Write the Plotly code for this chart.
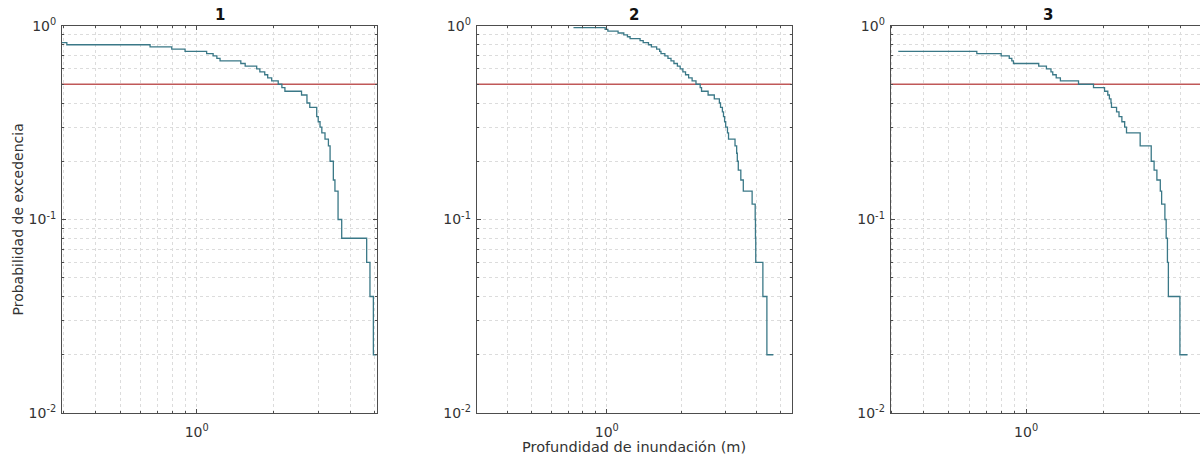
import plotly.graph_objects as go

# ---------------- data ----------------
panel_titles = ["1", "2", "3"]

depth_1 = [0.296, 0.309, 0.656, 0.798, 0.90, 1.094, 1.16, 1.20, 1.235, 1.49, 1.55, 1.72,
           1.77, 1.85, 1.90, 1.97, 2.09, 2.16, 2.22, 2.58, 2.71, 2.78, 2.96, 3.00, 3.05,
           3.10, 3.19, 3.29, 3.34, 3.44, 3.49, 3.59, 3.71, 4.65, 4.79, 4.94, 5.09]
prob_1 = [0.82, 0.80, 0.78, 0.76, 0.74, 0.72, 0.70, 0.68, 0.66, 0.64, 0.62, 0.60,
          0.58, 0.56, 0.54, 0.52, 0.50, 0.48, 0.46, 0.44, 0.40, 0.38, 0.34, 0.32, 0.30,
          0.28, 0.26, 0.24, 0.20, 0.16, 0.14, 0.10, 0.08, 0.06, 0.04, 0.02, 0.02]

depth_2 = [0.735, 0.985, 1.01, 1.11, 1.17, 1.21, 1.24, 1.36, 1.40, 1.47, 1.51, 1.585,
           1.63, 1.65, 1.71, 1.76, 1.81, 1.86, 1.92, 1.97, 2.02, 2.07, 2.13, 2.20, 2.28,
           2.37, 2.40, 2.55, 2.70, 2.83, 2.86, 2.91, 2.94, 2.97, 3.00, 3.05, 3.08, 3.27,
           3.32, 3.34, 3.37, 3.45, 3.53, 3.83, 3.94, 3.95, 3.96, 4.23, 4.39, 4.66]
prob_2 = [0.98, 0.96, 0.94, 0.92, 0.90, 0.88, 0.86, 0.84, 0.82, 0.80, 0.78, 0.76,
          0.74, 0.72, 0.70, 0.68, 0.66, 0.64, 0.62, 0.60, 0.58, 0.56, 0.54, 0.52, 0.50,
          0.48, 0.46, 0.44, 0.42, 0.40, 0.38, 0.36, 0.34, 0.32, 0.30, 0.28, 0.26, 0.24,
          0.22, 0.20, 0.18, 0.16, 0.14, 0.12, 0.10, 0.08, 0.06, 0.04, 0.02, 0.02]

depth_3 = [0.318, 0.643, 0.80, 0.86, 0.88, 0.893, 1.12, 1.20, 1.25, 1.27, 1.31, 1.36,
           1.60, 1.83, 2.02, 2.08, 2.11, 2.14, 2.15, 2.25, 2.30, 2.36, 2.42, 2.46, 2.78,
           3.07, 3.15, 3.23, 3.33, 3.37, 3.47, 3.51, 3.55, 3.58, 3.97, 4.25]
prob_3 = [0.74, 0.72, 0.70, 0.68, 0.66, 0.64, 0.62, 0.60, 0.58, 0.56, 0.54, 0.52,
          0.50, 0.48, 0.46, 0.44, 0.42, 0.40, 0.38, 0.36, 0.34, 0.32, 0.30, 0.28, 0.24,
          0.20, 0.18, 0.16, 0.14, 0.12, 0.10, 0.08, 0.06, 0.04, 0.02, 0.02]

threshold = 0.5

y_tick_vals = [0.01, 0.1, 1]
y_tick_text = ["10<sup>-2</sup>", "10<sup>-1</sup>", "10<sup>0</sup>"]
x_tick_vals = [1]
x_tick_text = ["10<sup>0</sup>"]
x_minor_vals = [0.2, 0.3, 0.4, 0.5, 0.6, 0.7, 0.8, 0.9, 2, 3, 4, 5, 6, 7]
y_minor_vals = [0.02, 0.03, 0.04, 0.05, 0.06, 0.07, 0.08, 0.09,
                0.2, 0.3, 0.4, 0.5, 0.6, 0.7, 0.8, 0.9]

x_label = "Profundidad de inundación (m)"
y_label = "Probabilidad de excedencia"

# ---------------- layout geometry ----------------
W, H = 1200, 458
x_dom_px = [(62, 377), (476.7, 791.7), (890.7, 1200)]
y_top_px, y_bot_px = 26, 413
x_ranges = [(-0.529, 0.708), (-0.522, 0.742), (-0.527, 0.677)]  # log10 limits
y_range = (-2, 0)

curve_color = "#3a7887"
red_color = "#c05858"
axis_color = "#4d4d4d"
grid_color = "#d9d9d9"
minor_grid_color = "#dcdcdc"
font_family = "DejaVu Sans"
tick_font = dict(family=font_family, size=14, color="#333333")

series = [(depth_1, prob_1), (depth_2, prob_2), (depth_3, prob_3)]

fig = go.Figure()
ydom = [1 - y_bot_px / H, 1 - y_top_px / H]

for i, (dep, pr) in enumerate(series):
    n = "" if i == 0 else str(i + 1)
    xr = x_ranges[i]
    fig.add_trace(go.Scatter(
        x=[10 ** xr[0], 10 ** xr[1]], y=[threshold, threshold],
        mode="lines", line=dict(color=red_color, width=1.6),
        xaxis="x" + n, yaxis="y" + n, showlegend=False, hoverinfo="skip"))
    fig.add_trace(go.Scatter(
        x=dep, y=pr, mode="lines", line=dict(color=curve_color, width=1.3, shape="hv"),
        xaxis="x" + n, yaxis="y" + n, showlegend=False))

    d0, d1 = x_dom_px[i]
    xdom = [d0 / W, min(d1 / W, 1.0)]
    last = (i == 2)
    fig.layout["xaxis" + n] = dict(
        type="log", domain=xdom, range=list(xr), anchor="y" + n,
        tickvals=x_tick_vals, ticktext=x_tick_text, ticklabelstandoff=6,
        showline=True, linecolor=axis_color, linewidth=1, mirror="ticks",
        ticks="inside", ticklen=4, tickcolor=axis_color,
        showgrid=True, gridcolor=grid_color, gridwidth=1, griddash="dot",
        minor=dict(tickvals=x_minor_vals, showgrid=True, gridcolor=minor_grid_color,
                   griddash="dot", ticks="inside", ticklen=2, tickcolor=axis_color),
        zeroline=False, automargin=False, tickfont=tick_font,
    )
    fig.layout["yaxis" + n] = dict(
        type="log", domain=ydom, range=list(y_range), anchor="x" + n,
        tickvals=y_tick_vals, ticktext=y_tick_text, ticklabelstandoff=2,
        showline=True, linecolor=axis_color, linewidth=1,
        mirror=False if last else "ticks",
        ticks="inside", ticklen=4, tickcolor=axis_color,
        showgrid=True, gridcolor=grid_color, gridwidth=1, griddash="dot",
        minor=dict(tickvals=y_minor_vals, showgrid=True, gridcolor=minor_grid_color,
                   griddash="dot", ticks="inside", ticklen=2, tickcolor=axis_color),
        zeroline=False, automargin=False, tickfont=tick_font,
    )
    fig.add_annotation(
        text="<b>" + panel_titles[i] + "</b>", xref="paper", yref="paper",
        x=(d0 + d1) / 2 / W if not last else (d0 + 315 / 2) / W,
        y=1 - y_top_px / H, xanchor="center", yanchor="bottom", showarrow=False,
        font=dict(family=font_family, size=15, color="#111111"))

fig.add_annotation(
    text=y_label, xref="paper", yref="paper", x=17 / W, y=1 - (y_top_px + y_bot_px) / 2 / H,
    xanchor="center", yanchor="middle", textangle=-90, showarrow=False,
    font=dict(family=font_family, size=14, color="#333333"))
fig.add_annotation(
    text=x_label, xref="paper", yref="paper", x=(x_dom_px[1][0] + x_dom_px[1][1]) / 2 / W,
    y=1 - 447 / H, xanchor="center", yanchor="middle", showarrow=False,
    font=dict(family=font_family, size=14.5, color="#333333"))

fig.update_layout(
    width=W, height=H, margin=dict(l=0, r=0, t=0, b=0),
    paper_bgcolor="white", plot_bgcolor="white",
    font=dict(family=font_family, size=12, color="#333333"),
    showlegend=False,
)

fig.write_html("out.html")
